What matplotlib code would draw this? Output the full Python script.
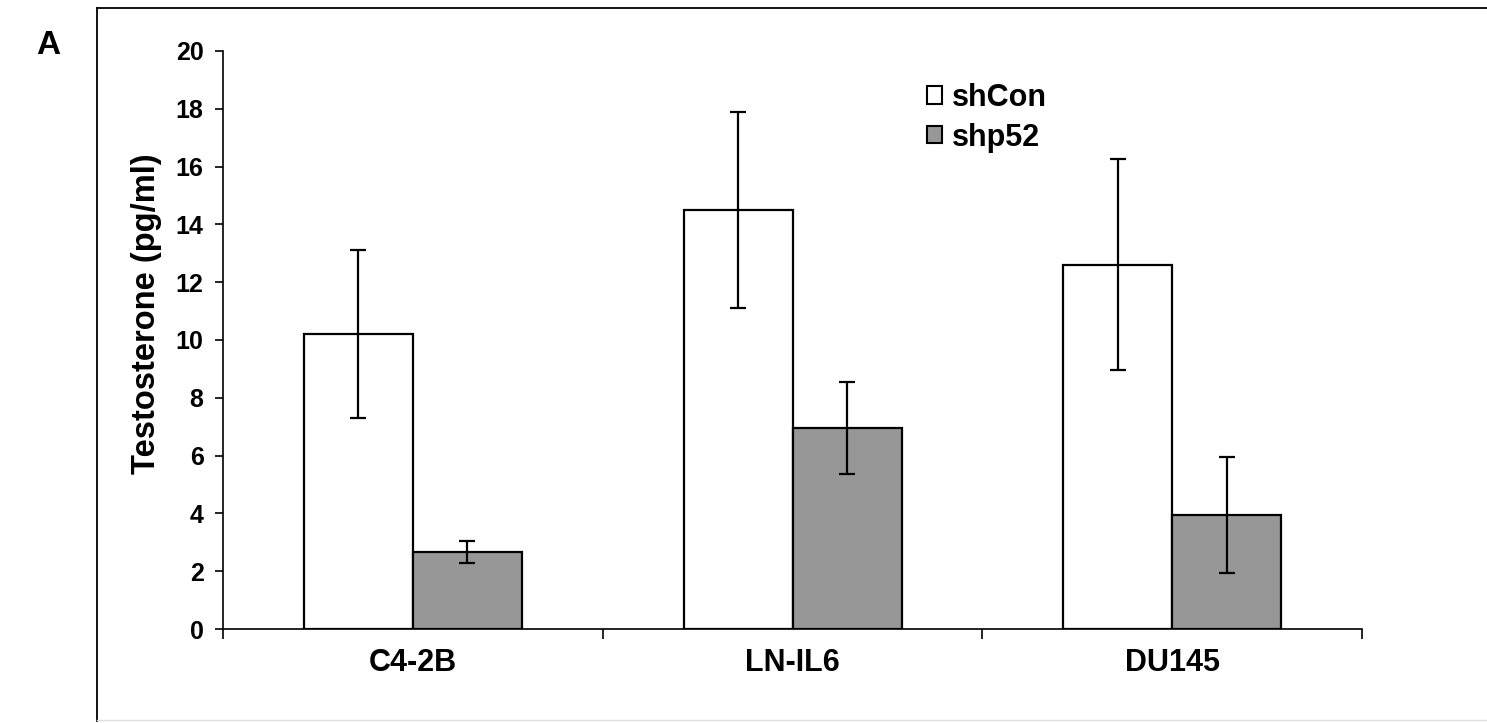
import matplotlib
matplotlib.use("Agg")
import matplotlib.pyplot as plt
from matplotlib.lines import Line2D
from matplotlib.patches import Patch
import numpy as np

plt.rcParams['font.family'] = ['Liberation Sans', 'DejaVu Sans']
plt.rcParams['font.weight'] = 'bold'

cells = ["C4-2B", "LN-IL6", "DU145"]
shcon = [10.2, 14.5, 12.6]
shcon_err = [2.9, 3.4, 3.65]
shp52 = [2.65, 6.95, 3.95]
shp52_err = [0.38, 1.6, 2.0]
yticks = [0, 2, 4, 6, 8, 10, 12, 14, 16, 18, 20]

fig = plt.figure(figsize=(14.87, 7.23), dpi=100)
ax = fig.add_axes([0.15, 0.130, 0.766, 0.7995])

x = np.arange(len(cells))
w = 0.287
ekw = dict(elinewidth=1.6, capthick=1.6, capsize=5.8, ecolor='black')
ax.bar(x - w / 2, shcon, w, yerr=shcon_err, color='white', edgecolor='black',
       linewidth=1.6, error_kw=ekw, label='shCon')
ax.bar(x + w / 2, shp52, w, yerr=shp52_err, color='#979797', edgecolor='black',
       linewidth=1.6, error_kw=ekw, label='shp52')

ax.set_xlim(-0.5, 2.5)
ax.set_ylim(0, 20)
ax.set_yticks(yticks)
ax.tick_params(axis='y', labelsize=18, direction='out', length=6, width=1.2, pad=8)
ax.set_xticks(x)
ax.set_xticklabels(cells, fontsize=22, fontweight='bold')
ax.set_xticks([-0.5, 0.5, 1.5, 2.5], minor=True)
ax.tick_params(axis='x', which='major', length=0, pad=14)
ax.tick_params(axis='x', which='minor', length=7, width=1.2, direction='out')
for s in ['top', 'right']:
    ax.spines[s].set_visible(False)
for s in ['left', 'bottom']:
    ax.spines[s].set_linewidth(1.2)
ax.set_ylabel('Testosterone (pg/ml)', fontsize=23.5, fontweight='bold')
ax.yaxis.set_label_coords(-0.054, 0.545)

handles = [Patch(facecolor='white', edgecolor='black', linewidth=1.5),
           Patch(facecolor='#979797', edgecolor='black', linewidth=1.5)]
ax.legend(handles, ['shCon', 'shp52'], loc='upper left', bbox_to_anchor=(0.618, 0.945),
          frameon=False, fontsize=22, handlelength=0.5, handleheight=0.5,
          handletextpad=0.3, labelspacing=0.32, borderpad=0, borderaxespad=0)

# panel frame and label
fig.add_artist(Line2D([97 / 1487, 97 / 1487], [1 - 8 / 723, 1 - 721 / 723],
                      transform=fig.transFigure, color='black', linewidth=1.3))
fig.add_artist(Line2D([97 / 1487, 1.0], [1 - 8 / 723, 1 - 8 / 723],
                      transform=fig.transFigure, color='black', linewidth=1.3))
fig.add_artist(Line2D([97 / 1487, 1.0], [1 - 720 / 723, 1 - 720 / 723],
                      transform=fig.transFigure, color='#dddddd', linewidth=1.0))
fig.text(48 / 1487, 1 - 45 / 723, 'A', fontsize=24, fontweight='bold',
         ha='center', va='center')

fig.savefig('out.png', dpi=100)
